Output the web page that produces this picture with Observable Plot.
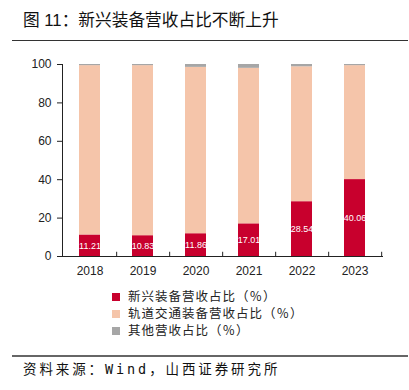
<!DOCTYPE html>
<html><head><meta charset="utf-8">
<script src="https://cdn.jsdelivr.net/npm/d3@7"></script>
<script src="https://cdn.jsdelivr.net/npm/@observablehq/plot@0.6"></script>
<style>
body{margin:0;background:#fff;font-family:"Liberation Sans","Noto Sans CJK SC",sans-serif;}
#wrap{position:relative;width:409px;height:390px;overflow:hidden;}
#title{position:absolute;left:23px;top:9px;font-size:16.7px;line-height:24px;font-weight:400;color:#111;font-family:"Liberation Sans","Noto Sans CJK SC",sans-serif;white-space:nowrap;}
#hr1{position:absolute;left:12px;top:40px;width:396px;height:1px;background:#333;}
#chart{position:absolute;left:0;top:44px;}
#legend{position:absolute;left:112px;top:289px;font-size:12.5px;letter-spacing:1px;color:#222;font-family:"Liberation Sans","Noto Sans CJK SC",sans-serif;}
.li{display:flex;align-items:center;height:16.7px;white-space:nowrap;line-height:14px;}
.sw{width:8px;height:8px;margin-right:8px;}
#hr2{position:absolute;left:12px;top:355px;width:396px;height:1.5px;background:#666;}
#foot{position:absolute;left:23px;top:358px;font-size:13.5px;line-height:20px;letter-spacing:2.9px;color:#111;font-family:"DejaVu Sans Mono","Noto Sans CJK SC",monospace;white-space:nowrap;}
#foot .c{font-family:"Noto Sans CJK SC",sans-serif;}
</style></head>
<body><div id="wrap">
<div id="title">图 11：新兴装备营收占比不断上升</div>
<div id="hr1"></div>
<div id="chart"></div>
<div id="legend"></div>
<div id="hr2"></div>
<div id="foot"><span class="c">资料来源：</span>Wind<span class="c">，山西证券研究所</span></div>
</div>
<script>
const years = ["2018","2019","2020","2021","2022","2023"];
const newEquip = [11.21, 10.83, 11.86, 17.01, 28.54, 40.06];
const otherRev = [0.6, 0.6, 1.5, 2.0, 1.2, 0.6];
const railEquip = newEquip.map((v,i)=> +(100 - v - otherRev[i]).toFixed(2));
const seriesNames = ["新兴装备营收占比（％）","轨道交通装备营收占比（％）","其他营收占比（％）"];
const colors = ["#c8002d","#f5c5aa","#a6a6a6"];
const yTicks = [0,20,40,60,80,100];

const rows = [];
years.forEach((y,i)=>{
  rows.push({year:y, series:seriesNames[0], value:newEquip[i]});
  rows.push({year:y, series:seriesNames[1], value:railEquip[i]});
  rows.push({year:y, series:seriesNames[2], value:otherRev[i]});
});
const labels = years.map((y,i)=>({year:y, v:newEquip[i]}));

const step = 320/6;
const chart = Plot.plot({
  width:409, height:250,
  marginTop:20, marginBottom:38, marginLeft:62, marginRight:27,
  style:{fontFamily:"Liberation Sans, Arial, sans-serif", fontSize:"12px", color:"#222"},
  x:{domain:years, paddingInner:0.6, paddingOuter:0.3, label:null},
  y:{domain:[0,100], label:null},
  color:{domain:seriesNames, range:colors},
  marks:[
    Plot.barY(rows,{x:"year", y:"value", fill:"series", order:seriesNames}),
    Plot.text(labels,{x:"year", y:d=>d.v/2, text:d=>d.v.toFixed(2), fill:"white", fontSize:9}),
    Plot.frame({anchor:"left", stroke:"#222"}),
    Plot.frame({anchor:"bottom", stroke:"#222"}),
    Plot.ruleX(years,{x:d=>d, dx:step/2, y1:0, y2:2.2, stroke:"#222"}),
    Plot.axisY({ticks:yTicks, tickSize:5, tickPadding:6, fontSize:12, stroke:"#222"}),
    Plot.axisX({tickSize:0, tickPadding:10, fontSize:12})
  ]
});
document.getElementById("chart").appendChild(chart);

const leg = document.getElementById("legend");
seriesNames.forEach((n,i)=>{
  const d=document.createElement("div"); d.className="li";
  d.innerHTML=`<span class="sw" style="background:${colors[i]}"></span><span>${n}</span>`;
  leg.appendChild(d);
});
</script>
</body></html>
